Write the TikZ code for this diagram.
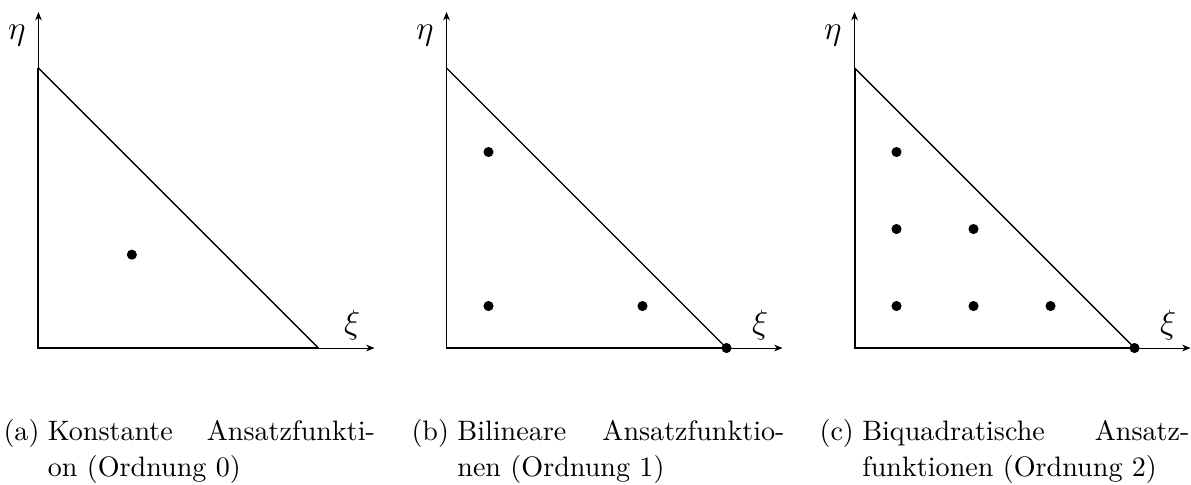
\documentclass[tikz,border=0pt]{standalone}
\usetikzlibrary{arrows.meta}
\begin{document}
\begin{tikzpicture}[
  axis/.style={line width=0.3pt,-{Stealth[length=3pt,width=2.4pt]}},
  leg/.style={line width=0.7pt},
  knot/.style={circle,fill,inner sep=0pt,minimum size=3.6pt},
  caplbl/.style={inner sep=0pt,anchor=base west,font=\fontsize{10}{13}\selectfont},
  captxt/.style={inner sep=0pt,anchor=north west,text width=4.09cm,align=left,font=\fontsize{10}{13}\selectfont}]
\useasboundingbox (-0.481,-1.7) rectangle (14.406,4.35);
% reference triangles with axes
\foreach \dx/\p in {0/a,5.1/b,10.2/c} {
\begin{scope}[xshift=\dx cm]
\draw[axis] (0,0) -- (4.2,0);
\draw[axis] (0,0) -- (0,4.2);
\draw[line width=0.5pt] (3.5,0) -- (0,3.5);
\draw[leg] (0,3.5) -- (0,0) -- (3.5,0);
\node[font=\large] (eta\p) at (-0.27,3.91) {$\eta$};
\node[font=\large] (xi\p) at (3.92,0.29) {$\xi$};
\end{scope}}
% (a) constant
\node[knot] (ka1) at (1.167,1.167) {};
% (b) bilinear
\begin{scope}[xshift=5.1cm]
\foreach \x/\y/\n in {0.525/0.525/1,2.45/0.525/2,0.525/2.45/3,3.5/0/4} \node[knot] (kb\n) at (\x,\y) {};
\end{scope}
% (c) biquadratic
\begin{scope}[xshift=10.2cm]
\foreach \x/\y/\n in {0.525/0.525/1,1.4875/0.525/2,2.45/0.525/3,0.525/1.4875/4,1.4875/1.4875/5,0.525/2.45/6,3.5/0/7} \node[knot] (kc\n) at (\x,\y) {};
\end{scope}
% captions
\node[caplbl] (lbla) at (-0.444,-1.15) {\strut(a)};
\node[captxt] (capa) at ([xshift=0.09cm]lbla.north east) {\strut Konstante\hfill Ansatzfunkti-\\on (Ordnung 0)};
\node[caplbl] (lblb) at (4.656,-1.15) {\strut(b)};
\node[captxt] (capb) at ([xshift=0.09cm]lblb.north east) {\strut Bilineare\hfill Ansatzfunktio-\\nen (Ordnung 1)};
\node[caplbl] (lblc) at (9.756,-1.15) {\strut(c)};
\node[captxt] (capc) at ([xshift=0.09cm]lblc.north east) {\strut Biquadratische\hfill Ansatz-\\funktionen (Ordnung 2)};
\end{tikzpicture}
\end{document}
